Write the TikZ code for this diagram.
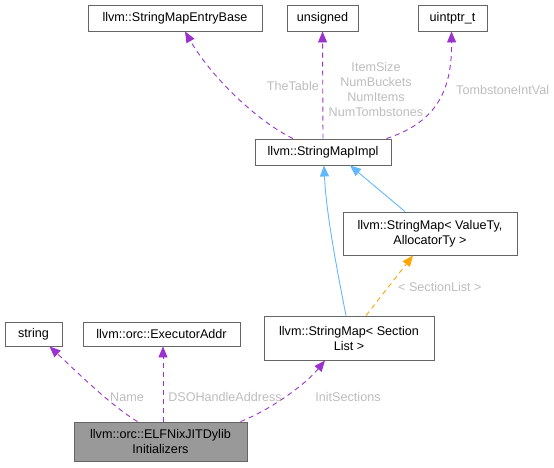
\documentclass[tikz,border=0pt]{standalone}
\usepackage{fontspec}
\setmainfont{Liberation Sans}
\usetikzlibrary{arrows.meta}
\definecolor{edgepurple}{HTML}{9A32CD}
\definecolor{edgeblue}{HTML}{63B8FF}
\definecolor{edgeorange}{HTML}{FFA500}
\definecolor{labelgray}{HTML}{BDBDBD}
\definecolor{boxgray}{HTML}{666666}
\definecolor{fillgray}{HTML}{999999}
\tikzset{
  cls/.style={draw=boxgray, line width=0.9pt, fill=white, inner sep=0pt, align=center,
    font=\fontsize{12.6}{15}\selectfont},
  usage/.style={draw=edgepurple, line width=0.9pt, dash pattern=on 5pt off 4pt,
    -{Triangle[length=11pt,width=9pt]}},
  inherit/.style={draw=edgeblue, line width=0.9pt, -{Triangle[length=11pt,width=9pt]}},
  tmpl/.style={draw=edgeorange, line width=0.9pt, dash pattern=on 5pt off 4pt,
    -{Triangle[length=11pt,width=9pt]}},
  lbl/.style={text=labelgray, font=\fontsize{12.6}{15}\selectfont, inner sep=0pt, align=center}
}
\begin{document}
\begin{tikzpicture}[x=1pt,y=-1pt]
\useasboundingbox (0,0) rectangle (554,467);
% nodes
\node[cls, minimum width=174pt, minimum height=26pt] (base) at (175,18) {llvm::StringMapEntryBase};
\node[cls, minimum width=71pt, minimum height=26pt] (uns) at (322.5,18) {unsigned};
\node[cls, minimum width=69pt, minimum height=26pt] (uptr) at (452.5,18) {uintptr\_t};
\node[cls, minimum width=136pt, minimum height=26pt] (impl) at (323,152) {llvm::StringMapImpl};
\node[cls, minimum width=174pt, minimum height=43pt] (smv) at (430,233.5) {llvm::StringMap< ValueTy,\\AllocatorTy >};
\node[cls, minimum width=170pt, minimum height=44pt] (sms) at (349,338) {llvm::StringMap< Section\\List >};
\node[cls, minimum width=57pt, minimum height=24pt] (str) at (33.5,334) {string};
\node[cls, minimum width=157pt, minimum height=24pt] (exa) at (161.5,334) {llvm::orc::ExecutorAddr};
\node[cls, fill=fillgray, minimum width=173pt, minimum height=39pt] (elf) at (160.5,441.5) {llvm::orc::ELFNixJITDylib\\Initializers};
% edges
\draw[usage] ([xshift=-30pt]impl.north) .. controls (255,120) and (210,75) .. ([xshift=10pt]base.south);
\draw[usage] (impl.north) -- (uns.south);
\draw[usage] ([xshift=-5pt]impl.north east) .. controls (437,122) and (452,90) .. ([xshift=-1pt]uptr.south);
\draw[inherit] ([xshift=-3pt]sms.north) .. controls (335,260) and (326,210) .. ([xshift=1pt]impl.south);
\draw[inherit] ([xshift=-25pt]smv.north) -- ([xshift=27pt]impl.south);
\draw[tmpl] ([xshift=17pt]sms.north) -- ([xshift=-17pt]smv.south);
\draw[usage] ([xshift=-23pt]elf.north) .. controls (110,405) and (75,370) .. ([xshift=16pt]str.south);
\draw[usage] ([xshift=2.5pt]elf.north) -- ([xshift=1.5pt]exa.south);
\draw[usage] ([xshift=80pt]elf.north) .. controls (270,410) and (305,385) .. ([xshift=-24pt]sms.south);
% labels
\node[lbl, anchor=east] (l1) at (319,86) {TheTable};
\node[lbl] (l2) at (376,89.5) {ItemSize\\NumBuckets\\NumItems\\NumTombstones};
\node[lbl, anchor=west] (l3) at (456,90) {TombstoneIntVal};
\node[lbl, anchor=west] (l4) at (398,287) {< SectionList >};
\node[lbl] (l5) at (127,397) {Name};
\node[lbl] (l6) at (225,397) {DSOHandleAddress};
\node[lbl] (l7) at (348,397) {InitSections};
\end{tikzpicture}
\end{document}
